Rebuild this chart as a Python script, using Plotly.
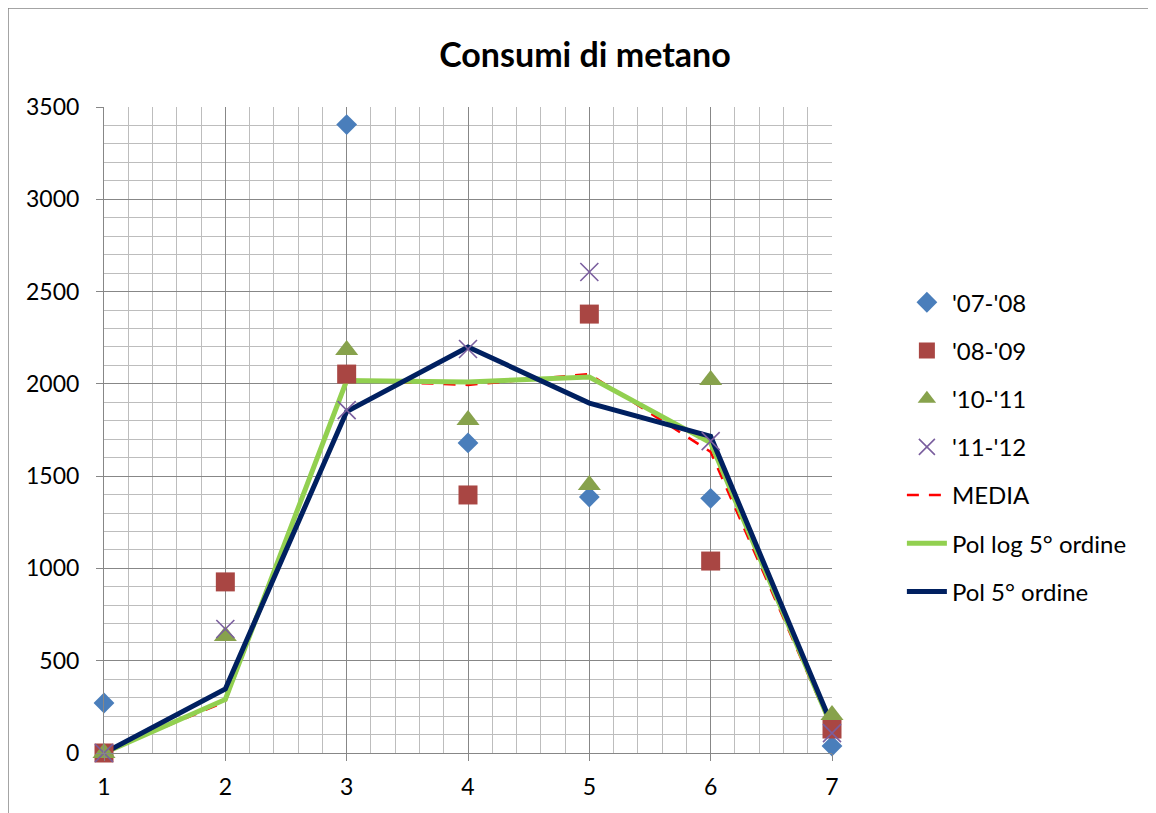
import plotly.graph_objects as go

x_vals = [1, 2, 3, 4, 5, 6, 7]
s0708 = [271, None, 3405, 1680, 1387, 1380, 38]
s0809 = [0, 927, 2053, 1398, 2378, 1040, 130]
s1011 = [0, 634, 2183, 1804, 1452, 2021, 206]
s1112 = [0, 672, 1858, 2189, 2606, 1690, 108]
media = [5, 278, 2020, 1994, 2053, 1631, 130]
pol_log = [0, 290, 2018, 2010, 2037, 1680, 140]
pol5 = [0, 347, 1850, 2200, 1896, 1715, 150]

names = ["'07-'08", "'08-'09", "'10-'11", "'11-'12", "MEDIA", "Pol log 5° ordine", "Pol 5° ordine"]
FONT = "Lato"

fig = go.Figure()

# lines first (drawn beneath markers)
fig.add_trace(go.Scatter(x=x_vals, y=media, mode="lines", name=names[4], legendgroup="g5", legendrank=5,
                         line=dict(color="#FF0000", width=2.5, dash="12px,10px"), cliponaxis=False))
fig.add_trace(go.Scatter(x=x_vals, y=pol_log, mode="lines", name=names[5], legendgroup="g6", legendrank=6,
                         line=dict(color="#92D050", width=5), cliponaxis=False))
fig.add_trace(go.Scatter(x=x_vals, y=pol5, mode="lines", name=names[6], legendgroup="g7", legendrank=7,
                         line=dict(color="#002060", width=5), cliponaxis=False))

fig.add_trace(go.Scatter(x=x_vals, y=s0708, mode="markers", name=names[0], legendgroup="g1", legendrank=1,
                         marker=dict(symbol="diamond", size=16, color="#4A7EBB"), cliponaxis=False))
fig.add_trace(go.Scatter(x=x_vals, y=s0809, mode="markers", name=names[1], legendgroup="g2", legendrank=2,
                         marker=dict(symbol="square", size=19, color="#A94643"), cliponaxis=False))
fig.add_trace(go.Scatter(x=x_vals, y=s1011, mode="markers", name=names[2], legendgroup="g3", legendrank=3,
                         marker=dict(symbol="triangle-up", size=20, color="#87A24C"), cliponaxis=False))
fig.add_trace(go.Scatter(x=x_vals, y=s1112, mode="markers", name=names[3], legendgroup="g4", legendrank=4,
                         marker=dict(symbol="x-thin", size=18, line=dict(color="#7A5E9E", width=1.6)),
                         cliponaxis=False))

major = "#878787"
minor = "#BDBDBD"

fig.update_layout(
    width=1156, height=813,
    margin=dict(l=96, r=332, t=99, b=68),
    paper_bgcolor="white", plot_bgcolor="white",
    font=dict(family=FONT, size=23, color="#000000"),
    title=dict(text="<b>Consumi di metano</b>", x=(585 - 8) / 1156, xref="container", xanchor="center",
               y=1 - 47 / 813, yref="container", yanchor="middle",
               font=dict(family=FONT, size=34, color="#000000")),
    showlegend=True,
    legend=dict(x=1.096, xanchor="left", y=0.732, yanchor="top", traceorder="grouped",
                tracegroupgap=14, font=dict(family=FONT, size=24, color="#000000"),
                bgcolor="rgba(0,0,0,0)", itemwidth=40),
    xaxis=dict(range=[1, 7], dtick=1, tick0=1, showgrid=True, gridcolor=major, gridwidth=1,
               minor=dict(dtick=0.2, showgrid=True, gridcolor=minor, gridwidth=1),
               showline=True, linecolor=major, linewidth=1,
               ticks="outside", ticklen=7, tickcolor=major, zeroline=False,
               ticklabelstandoff=6,
               tickfont=dict(family=FONT, size=23), fixedrange=True),
    yaxis=dict(range=[0, 3500], dtick=500, showgrid=True, gridcolor=major, gridwidth=1,
               minor=dict(dtick=100, showgrid=True, gridcolor=minor, gridwidth=1),
               showline=True, linecolor=major, linewidth=1,
               ticks="outside", ticklen=7, tickcolor=major, zeroline=False,
               ticklabelstandoff=12,
               tickfont=dict(family=FONT, size=23), fixedrange=True),
)

# outer chart border
fig.add_shape(type="rect", xref="paper", yref="paper",
              x0=(8 - 104) / 728, x1=(1200 - 104) / 728,
              y0=(753 - 850) / 646, y1=(753 - 8) / 646,
              line=dict(color="#868686", width=1.5), fillcolor="rgba(0,0,0,0)", layer="below")

fig.write_html("out.html")
